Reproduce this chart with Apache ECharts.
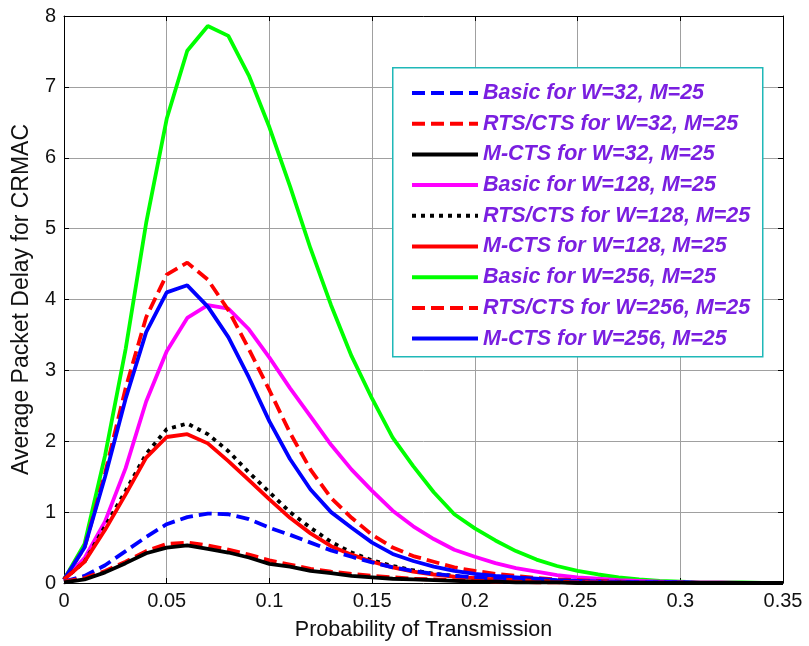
<!DOCTYPE html>
<html><head><meta charset="utf-8">
<script src="https://cdn.jsdelivr.net/npm/echarts@6/dist/echarts.min.js"></script>
<style>html,body{margin:0;padding:0;background:#fff}#c{width:809px;height:646px}</style>
</head><body><div id="c"></div>
<script>
var xs = [0,0.01,0.02,0.03,0.04,0.05,0.06,0.07,0.08,0.09,0.10,0.11,0.12,0.13,0.14,0.15,0.16,0.17,0.18,0.19,0.20,0.21,0.22,0.23,0.24,0.25,0.26,0.27,0.28,0.29,0.30,0.31,0.32,0.33,0.34,0.35];
var basic32   = [0.02,0.10,0.25,0.45,0.65,0.83,0.93,0.98,0.97,0.90,0.78,0.68,0.57,0.46,0.37,0.29,0.22,0.17,0.13,0.10,0.08,0.06,0.05,0.04,0.03,0.02,0.02,0.01,0.01,0.01,0.01,0,0,0,0,0];
var rts32     = [0.02,0.07,0.17,0.30,0.45,0.55,0.57,0.53,0.47,0.40,0.32,0.26,0.20,0.16,0.13,0.10,0.08,0.06,0.05,0.04,0.03,0.02,0.02,0.01,0.01,0.01,0.01,0,0,0,0,0,0,0,0,0];
var mcts32    = [0.01,0.05,0.15,0.28,0.42,0.50,0.53,0.48,0.43,0.36,0.27,0.23,0.17,0.14,0.10,0.08,0.06,0.05,0.04,0.03,0.02,0.02,0.01,0.01,0.01,0,0,0,0,0,0,0,0,0,0,0];
var basic128  = [0.05,0.35,0.87,1.62,2.56,3.27,3.74,3.92,3.87,3.58,3.18,2.75,2.35,1.95,1.60,1.30,1.02,0.80,0.62,0.47,0.37,0.28,0.21,0.16,0.11,0.08,0.06,0.04,0.03,0.02,0.01,0.01,0.01,0,0,0];
var rts128    = [0.05,0.30,0.80,1.30,1.82,2.17,2.25,2.10,1.86,1.56,1.28,1.00,0.78,0.58,0.43,0.32,0.24,0.18,0.13,0.10,0.07,0.05,0.04,0.03,0.02,0.01,0.01,0.01,0,0,0,0,0,0,0,0];
var mcts128   = [0.05,0.30,0.75,1.25,1.77,2.06,2.10,1.97,1.72,1.45,1.18,0.92,0.70,0.52,0.40,0.30,0.22,0.16,0.12,0.09,0.07,0.05,0.04,0.03,0.02,0.01,0.01,0.01,0,0,0,0,0,0,0,0];
var basic256  = [0.05,0.55,1.80,3.30,5.08,6.55,7.51,7.86,7.72,7.16,6.43,5.60,4.72,3.92,3.20,2.60,2.05,1.65,1.28,0.97,0.77,0.60,0.45,0.33,0.24,0.17,0.12,0.08,0.05,0.03,0.02,0.01,0.01,0.01,0,0];
var rts256    = [0.05,0.50,1.55,2.75,3.75,4.35,4.52,4.28,3.85,3.30,2.72,2.12,1.60,1.20,0.92,0.68,0.50,0.38,0.30,0.22,0.17,0.13,0.10,0.07,0.05,0.04,0.03,0.02,0.01,0.01,0.01,0,0,0,0,0];
var mcts256   = [0.05,0.50,1.50,2.60,3.54,4.10,4.20,3.90,3.47,2.90,2.28,1.75,1.32,1.00,0.78,0.57,0.41,0.31,0.23,0.17,0.13,0.10,0.08,0.06,0.04,0.03,0.02,0.02,0.01,0.01,0.01,0,0,0,0,0];
var names = ['Basic for W=32, M=25','RTS/CTS for W=32, M=25','M-CTS for W=32, M=25','Basic for W=128, M=25','RTS/CTS for W=128, M=25','M-CTS for W=128, M=25','Basic for W=256, M=25','RTS/CTS for W=256, M=25','M-CTS for W=256, M=25'];
var xTicks = [0,0.05,0.1,0.15,0.2,0.25,0.3,0.35];
var yTicks = [0,1,2,3,4,5,6,7,8];

var dataSets = [basic32,rts32,mcts32,basic128,rts128,mcts128,basic256,rts256,mcts256];
var styles = [
  {color:'#0000ff', type:[13,6]},
  {color:'#ff0000', type:[13,6]},
  {color:'#000000', type:'solid'},
  {color:'#ff00ff', type:'solid'},
  {color:'#000000', type:[4,5]},
  {color:'#ff0000', type:'solid'},
  {color:'#00ff00', type:'solid'},
  {color:'#ff0000', type:[13,6]},
  {color:'#0000ff', type:'solid'}
];
var drawOrder = [6,3,7,8,4,5,0,1,2];
var series = [];
for (var k=0;k<drawOrder.length;k++){
  var i = drawOrder[k];
  series.push({
    name:names[i], type:'line', showSymbol:false, symbol:'none', animation:false,
    data: xs.map(function(x,j){return [x, dataSets[i][j]];}),
    lineStyle:{color:styles[i].color, width:3.8, type:styles[i].type, cap:'butt'},
    itemStyle:{color:styles[i].color},
    z: 2
  });
}
var font = 'Liberation Sans, Arial, sans-serif';
var chart = echarts.init(document.getElementById('c'));
var aLine = {show:true, onZero:false, lineStyle:{color:'#000', width:1}};
var aTick = {show:true, inside:true, length:5, lineStyle:{color:'#000'}};
chart.setOption({
  backgroundColor:'#fff',
  animation:false,
  grid:{left:64, top:16, right:26, bottom:60},
  xAxis:[{
    type:'value', min:0, max:0.35, interval:0.05,
    name:'Probability of Transmission', nameLocation:'middle', nameGap:36,
    nameTextStyle:{fontFamily:font, fontSize:21.5, color:'#111'},
    axisLabel:{fontFamily:font, fontSize:20, color:'#111', margin:8,
      formatter:function(v){return String(+v.toFixed(2));}},
    splitLine:{show:true, lineStyle:{color:'#a0a0a0', width:1}},
    axisLine:aLine, axisTick:aTick
  },{
    type:'value', min:0, max:0.35, interval:0.05, position:'top',
    axisLabel:{show:false}, splitLine:{show:false},
    axisLine:aLine, axisTick:aTick
  }],
  yAxis:[{
    type:'value', min:0, max:8, interval:1,
    name:'Average Packet Delay for CRMAC', nameLocation:'middle', nameGap:31,
    nameTextStyle:{fontFamily:font, fontSize:23, color:'#111'},
    axisLabel:{fontFamily:font, fontSize:20, color:'#111', margin:8},
    splitLine:{show:true, lineStyle:{color:'#a0a0a0', width:1}},
    axisLine:aLine, axisTick:aTick
  },{
    type:'value', min:0, max:8, interval:1, position:'right',
    axisLabel:{show:false}, splitLine:{show:false},
    axisLine:aLine, axisTick:aTick
  }],
  graphic:[{
    type:'rect', left:392, top:67, z:50,
    shape:{width:370, height:289},
    style:{fill:'#fff', stroke:'#1fb8b8', lineWidth:1.5}
  }],
  legend:{
    orient:'vertical', left:405, top:77, z:60,
    data:names,
    itemWidth:66, itemHeight:14, itemGap:8.7,
    itemStyle:{opacity:0, borderWidth:0},
    lineStyle:{width:4},
    textStyle:{fontFamily:font, fontSize:21.5, fontWeight:'bold', fontStyle:'italic', color:'#7a1fe0', lineHeight:21},
    inactiveColor:'#7a1fe0'
  },
  series:series
});
</script></body></html>
